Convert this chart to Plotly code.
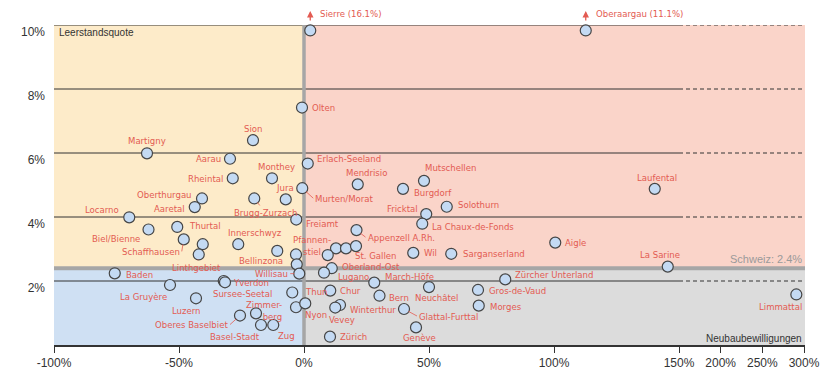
import plotly.graph_objects as go

# ---------------- data ----------------
regions = ["Sierre", "Oberaargau", "Olten", "Sion", "Martigny", "Aarau", "Erlach-Seeland",
           "Rheintal", "Monthey", "Mutschellen", "Mendrisio", "Murten/Morat", "Burgdorf",
           "Laufental", "Oberthurgau", "Brugg-Zurzach", "Jura", "Aaretal", "Solothurn",
           "Fricktal", "Locarno", "Freiamt", "La Chaux-de-Fonds", "Thurtal", "Biel/Bienne",
           "Appenzell A.Rh.", "Schaffhausen", "", "Innerschwyz", "Aigle", "", "",
           "St. Gallen", "Bellinzona", "Wil", "Sarganserland", "Linthgebiet", "",
           "Pfannenstiel", "", "La Sarine", "Oberland-Ost", "Lugano", "Willisau", "Baden",
           "Zürcher Unterland", "Yverdon", "Sursee-Seetal", "March-Höfe", "La Gruyère",
           "Neuchâtel", "Gros-de-Vaud", "Chur", "Thun", "Limmattal", "Bern", "Luzern", "",
           "Nyon", "Morges", "Winterthur", "Vevey", "Glattal-Furttal", "Zimmerberg",
           "Oberes Baselbiet", "Basel-Stadt", "Zug", "Genève", "Zürich"]

# change in building permits (Neubaubewilligungen), %
neubau = [2.5, 112.7, -0.8, -20.4, -62.8, -29.6, 1.5,
          -28.5, -12.8, 48.0, 21.5, -0.7, 39.6,
          140.3, -40.8, -19.9, -7.3, -43.7, 57.1,
          48.9, -69.9, -3.1, 47.3, -50.7, -62.2,
          21.0, -48.1, -40.5, -26.3, 100.5, 12.8, 16.8,
          20.8, -10.7, 43.7, 58.9, -42.1, -3.2,
          9.5, -2.9, 145.5, 11.1, 8.0, -1.9, -75.7,
          80.5, -32.1, -31.6, 28.1, -53.6,
          50.0, 69.6, 10.5, -4.7, 290.8, 30.2, -43.2, -3.2,
          0.5, 69.9, 14.4, 12.5, 40.0, -19.2,
          -25.6, -17.2, -12.3, 44.8, 10.4]

# vacancy rate (Leerstandsquote), %
leerstand = [16.1, 11.1, 7.42, 6.40, 5.99, 5.82, 5.67,
             5.21, 5.21, 5.13, 5.02, 4.90, 4.88,
             4.88, 4.58, 4.58, 4.55, 4.31, 4.32,
             4.09, 3.99, 3.92, 3.79, 3.69, 3.61,
             3.59, 3.30, 3.15, 3.15, 3.20, 3.02, 3.02,
             3.09, 2.94, 2.88, 2.85, 2.83, 2.83,
             2.81, 2.52, 2.45, 2.40, 2.26, 2.23, 2.24,
             2.05, 2.00, 1.96, 1.95, 1.875,
             1.81, 1.72, 1.70, 1.64, 1.58, 1.54, 1.46, 1.18,
             1.30, 1.23, 1.25, 1.17, 1.125, 0.99,
             0.92, 0.625, 0.625, 0.55, 0.26]

schweiz = 2.4
x_ticks = [-100, -50, 0, 50, 100, 150, 200, 250, 300]
y_ticks = [2, 4, 6, 8, 10]

assert len(regions) == len(neubau) == len(leerstand)

# ---------------- scales ----------------
BREAK = 150          # axis is compressed above 150 %
Y_MAX = 10


def xu(v):
    return v if v <= BREAK else BREAK + (v - BREAK) / 3.0


X_END = xu(300) + 0.4
Y_CAP = 9.83          # values above the axis are drawn at the top edge

# label placement: name -> (dx px, dy px (down), anchor, leader)
LBL = {
    "Martigny": (0, -13, "c", 0), "Sion": (0, -12, "c", 0), "Aarau": (-7, 0, "r", 0),
    "Rheintal": (-8, 0, "r", 0), "Monthey": (4, -12, "c", 0), "Olten": (8, 0, "l", 0),
    "Erlach-Seeland": (7, -5, "l", 0), "Mendrisio": (9, -12, "c", 0),
    "Mutschellen": (-1, -13, "l", 0), "Jura": (-1, -12, "c", 0),
    "Murten/Morat": (11, 10, "l", 1), "Burgdorf": (9, 4, "l", 0),
    "Laufental": (2, -11, "c", 0), "Oberthurgau": (-8, -4, "r", 0),
    "Aaretal": (-8, 1, "r", 0), "Brugg-Zurzach": (11, 14, "c", 1),
    "Solothurn": (9, -2, "l", 0), "Fricktal": (-6, -6, "r", 0),
    "Locarno": (-8, -8, "r", 0), "Freiamt": (8, 4, "l", 0),
    "La Chaux-de-Fonds": (8, 3, "l", 0), "Thurtal": (10, -1, "l", 0),
    "Biel/Bienne": (-7, 9, "r", 0), "Appenzell A.Rh.": (9, 7, "l", 1),
    "Schaffhausen": (-2, 12, "r", 1), "Innerschwyz": (17, -12, "c", 0),
    "Aigle": (8, 0, "l", 0), "St. Gallen": (-3, 9, "l", 0),
    "Bellinzona": (-16, 10, "c", 0), "Wil": (9, 0, "l", 0),
    "Sarganserland": (10, 0, "l", 0), "Linthgebiet": (-2, 13, "c", 1),
    "Pfannenstiel": (-16, -10, "c", 1), "La Sarine": (-8, -12, "c", 0),
    "Oberland-Ost": (8, -2, "l", 0), "Lugano": (12, 4, "l", 0),
    "Willisau": (-9, 0, "r", 1), "Baden": (9, 1, "l", 0),
    "Zürcher Unterland": (8, -5, "l", 0), "Yverdon": (7, 1, "l", 0),
    "Sursee-Seetal": (17, 11, "c", 0), "March-Höfe": (9, -6, "l", 0),
    "La Gruyère": (-1, 11, "r", 0), "Neuchâtel": (7, 10, "c", 0),
    "Gros-de-Vaud": (9, 1, "l", 0), "Chur": (8, 0, "l", 0), "Thun": (11, -1, "l", 0),
    "Limmattal": (-16, 12, "c", 0), "Bern": (7, 2, "l", 0), "Luzern": (-10, 12, "c", 0),
    "Nyon": (11, 11, "c", 0), "Morges": (9, 1, "l", 0), "Winterthur": (8, 4, "l", 0),
    "Vevey": (7, 12, "c", 0), "Glattal-Furttal": (13, 7, "l", 1),
    "Zimmerberg": (28, -3, "r", 0), "Oberes Baselbiet": (-10, 9, "r", 1),
    "Basel-Stadt": (1, 11, "r", 0), "Zug": (13, 10, "c", 0), "Genève": (3, 10, "c", 0),
    "Zürich": (8, 0, "l", 0),
}
BREAKS = {"Pfannenstiel": "Pfannen-<br>stiel", "Zimmerberg": "Zimmer-<br>berg"}

RED = "#e35b52"
LBL_FONT = dict(family="DejaVu Sans Condensed", size=9.5, color=RED)
DARK = "#333333"

xs = [xu(v) for v in neubau]
ys = [min(v, Y_CAP) for v in leerstand]

fig = go.Figure()
fig.add_trace(go.Scatter(
    x=xs, y=ys, mode="markers",
    marker=dict(size=11, color="#c4daf3", line=dict(color="#454545", width=1.2)),
    hoverinfo="skip", cliponaxis=False,
))

shapes = []
# quadrant backgrounds
for x0, x1, y0, y1, c in [(-100, 0, schweiz, Y_MAX, "#fdebc9"),
                          (0, X_END, schweiz, Y_MAX, "#fad4c9"),
                          (-100, 0, 0, schweiz, "#cfe0f3"),
                          (0, X_END, 0, schweiz, "#dcdcdc")]:
    shapes.append(dict(type="rect", xref="x", yref="y", x0=x0, x1=x1, y0=y0, y1=y1,
                       fillcolor=c, line=dict(width=0), layer="below"))
# horizontal grid lines: solid up to the break, dashed beyond
for t in y_ticks:
    shapes.append(dict(type="line", xref="x", yref="y", x0=-100, x1=BREAK, y0=t, y1=t,
                       line=dict(color="#333333", width=1), layer="below"))
    shapes.append(dict(type="line", xref="x", yref="y", x0=BREAK, x1=X_END, y0=t, y1=t,
                       line=dict(color="#333333", width=1, dash="4px,3px"), layer="below"))
# zero line and Swiss average
shapes.append(dict(type="line", xref="x", yref="y", x0=0, x1=0, y0=0, y1=Y_MAX,
                   line=dict(color="#a6a6a6", width=3.5), layer="below"))
shapes.append(dict(type="line", xref="x", yref="y", x0=-100, x1=X_END, y0=schweiz, y1=schweiz,
                   line=dict(color="#a6a6a6", width=4), layer="below"))

annotations = []
anchor_map = {"l": "left", "r": "right", "c": "center"}
for name, x, y, raw in zip(regions, xs, ys, leerstand):
    if not name:
        continue
    if raw > Y_MAX:
        # off-scale: arrow + label with the true value
        annotations.append(dict(x=x, y=Y_MAX, xref="x", yref="y", text="", showarrow=True,
                                arrowhead=2, arrowsize=1, arrowwidth=1.3, arrowcolor=RED,
                                ax=0, ay=11, yshift=14))
        annotations.append(dict(x=x, y=Y_MAX, xref="x", yref="y",
                                text=f"{name} ({raw:.1f}%)",
                                showarrow=False, xanchor="left", yanchor="middle",
                                xshift=8, yshift=12, font=LBL_FONT))
        continue
    dx, dy, anc, lead = LBL[name]
    txt = BREAKS.get(name, name)
    align = "right" if name == "Zimmerberg" else "center"
    if lead:
        annotations.append(dict(x=x, y=y, xref="x", yref="y", text=txt, showarrow=True,
                                arrowhead=0, arrowwidth=0.8, arrowcolor=RED, standoff=5,
                                ax=dx, ay=dy, xanchor=anchor_map[anc], yanchor="middle",
                                align=align, font=LBL_FONT))
    else:
        annotations.append(dict(x=x, y=y, xref="x", yref="y", text=txt, showarrow=False,
                                xshift=dx, yshift=-dy, xanchor=anchor_map[anc],
                                yanchor="middle", align=align, font=LBL_FONT))

TXT_FONT = dict(family="Liberation Sans", size=10, color=DARK)
annotations += [
    dict(x=0, y=1, xref="paper", yref="paper", text="Leerstandsquote", showarrow=False,
         xanchor="left", yanchor="middle", xshift=3, yshift=-7, font=TXT_FONT),
    dict(x=1, y=0, xref="paper", yref="paper", text="Neubaubewilligungen", showarrow=False,
         xanchor="right", yanchor="middle", xshift=-1, yshift=7, font=TXT_FONT),
    dict(x=1, y=schweiz, xref="paper", yref="y", text=f"Schweiz: {schweiz}%", showarrow=False,
         xanchor="right", yanchor="middle", xshift=-1, yshift=9,
         font=dict(family="Liberation Sans", size=11, color="#9a9a9a")),
]

tick_txt = [f"{t}%" for t in x_ticks]
TICK_FONT = dict(family="Liberation Sans", size=12, color=DARK)

# the page body adds an 8 px offset, so margins are reduced on the top/left
fig.update_layout(
    width=830, height=379, autosize=False,
    margin=dict(l=46, r=33, t=17, b=42, autoexpand=False),
    paper_bgcolor="white", plot_bgcolor="white",
    showlegend=False,
    shapes=shapes, annotations=annotations,
    xaxis=dict(range=[-100, X_END], tickvals=[xu(t) for t in x_ticks], ticktext=tick_txt,
               showgrid=False, zeroline=False, showline=True, linecolor=DARK, linewidth=1.5,
               ticks="outside", ticklen=6, tickcolor=DARK, tickwidth=1, automargin=False,
               tickfont=TICK_FONT),
    yaxis=dict(range=[0, Y_MAX], tickvals=y_ticks, ticktext=[f"{t}%" for t in y_ticks],
               showgrid=False, zeroline=False, showline=False, ticks="", automargin=False,
               ticklabelstandoff=8, ticklabelshift=7, tickfont=TICK_FONT),
)

fig.write_html("out.html")
